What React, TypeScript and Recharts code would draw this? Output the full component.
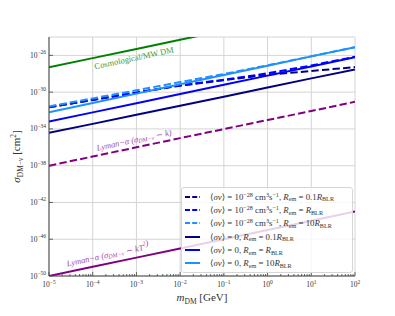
import React from 'react';
import {
  LineChart,
  Line,
  XAxis,
  YAxis,
  CartesianGrid,
  Legend,
  ReferenceDot,
} from 'recharts';

// decades of m_DM [GeV] where the curves were read
const massExp = [-5, -4, -3, -2, -1, 0, 1, 2];

// log10(sigma / cm^2) at each decade
const annNavy = [-31.65, -30.85, -30.05, -29.3, -28.7, -28.1, -27.7, -27.27];
const annBlue = [-31.65, -30.85, -30.05, -29.25, -28.65, -27.95, -27.1, -26.15];
const annLight = [-31.55, -30.68, -29.8, -28.9, -28.03, -27.08, -26.1, -25.1];
const noAnnNavy = [-34.43, -33.45, -32.46, -31.48, -30.5, -29.5, -28.5, -27.53];
const noAnnBlue = [-33.2, -32.2, -31.2, -30.2, -29.2, -28.2, -27.2, -26.2];
const noAnnLight = [-32.18, -31.17, -30.16, -29.15, -28.14, -27.12, -26.11, -25.1];
const cosmoMW = [-27.3, -26.3, -25.3, -24.3, -23.3, -22.3, -21.3, -20.3];
const lymanK = [-38, -37, -36, -35, -34.02, -33.03, -32.05, -31.05];
const lymanKT2 = [-50, -49, -48, -47, -46, -45, -44, -42.98];

// axis ticks (exponents)
const xMajorExp = [-5, -4, -3, -2, -1, 0, 1, 2];
const yMajorExp = [-50, -46, -42, -38, -34, -30, -26];

// annotation anchors (log10 m, log10 sigma)
const cosmoLabelAt = [-3.05, -26.38];
const lymanKLabelAt = [-3.05, -35.3];
const lymanKT2LabelAt = [-3.65, -47.8];

const SERIF = '"Liberation Serif", "DejaVu Serif", serif';
const AXIS = '#444';

const xMajor = xMajorExp.map((e) => 10 ** e);
const xMinor: number[] = [];
xMajorExp.slice(0, -1).forEach((e) => {
  for (let k = 2; k <= 9; k++) xMinor.push(k * 10 ** e);
});
const xAll = [...xMajor, ...xMinor].sort((a, b) => a - b);
const yMajor = yMajorExp.map((e) => 10 ** e);

const rows = massExp.map((e, i) => ({
  m: 10 ** e,
  annNavy: 10 ** annNavy[i],
  annBlue: 10 ** annBlue[i],
  annLight: 10 ** annLight[i],
  noAnnNavy: 10 ** noAnnNavy[i],
  noAnnBlue: 10 ** noAnnBlue[i],
  noAnnLight: 10 ** noAnnLight[i],
  cosmoMW: 10 ** cosmoMW[i],
  lymanK: 10 ** lymanK[i],
  lymanKT2: 10 ** lymanKT2[i],
}));

const bandSeries = [
  { key: 'annNavy', color: '#000080', dashed: true, sv: '−28', r: '0.1' },
  { key: 'annBlue', color: '#0000ff', dashed: true, sv: '−28', r: '' },
  { key: 'annLight', color: '#1e90ff', dashed: true, sv: '−28', r: '10' },
  { key: 'noAnnNavy', color: '#000080', dashed: false, sv: '', r: '0.1' },
  { key: 'noAnnBlue', color: '#0000ff', dashed: false, sv: '', r: '' },
  { key: 'noAnnLight', color: '#1e90ff', dashed: false, sv: '', r: '10' },
];

const DASH = '7.4 3.2';

const expText = (v: number) => {
  const e = Math.round(Math.log10(v));
  return e < 0 ? `−${-e}` : `${e}`;
};
const isMajor = (v: number) => {
  const e = Math.log10(v);
  return Math.abs(e - Math.round(e)) < 1e-6;
};

const XTick = (props: any) => {
  const { x, y, payload } = props;
  const major = isMajor(payload.value);
  return (
    <g>
      <line x1={x} x2={x} y1={y} y2={y - (major ? 4 : 2)} stroke={AXIS} strokeWidth={0.8} />
      {major && (
        <text x={x} y={y + 11} textAnchor="middle" fontSize={7.5} fill="#333" fontFamily={SERIF}>
          10
          <tspan dy={-3.5} fontSize={5.5}>
            {expText(payload.value)}
          </tspan>
        </text>
      )}
    </g>
  );
};

const TopTick = (props: any) => {
  const { x, y } = props;
  return <line x1={x} x2={x} y1={y} y2={y + 4} stroke={AXIS} strokeWidth={0.8} />;
};

const YTick = (props: any) => {
  const { x, y, payload } = props;
  return (
    <g>
      <line x1={x} x2={x + 4} y1={y} y2={y} stroke={AXIS} strokeWidth={0.8} />
      <text x={x - 3} y={y + 2.5} textAnchor="end" fontSize={7.5} fill="#333" fontFamily={SERIF}>
        10
        <tspan dy={-3.5} fontSize={5.5}>
          {expText(payload.value)}
        </tspan>
      </text>
    </g>
  );
};

const RightTick = (props: any) => {
  const { x, y } = props;
  return <line x1={x} x2={x - 4} y1={y} y2={y} stroke={AXIS} strokeWidth={0.8} />;
};

const sup: React.CSSProperties = { fontSize: '0.7em', position: 'relative', top: '-0.45em' };
const sub: React.CSSProperties = { fontSize: '0.7em', position: 'relative', top: '0.3em' };

const LegendBox = () => (
  <div
    style={{
      background: 'rgba(255,255,255,0.82)',
      border: '1px solid #d6d6d6',
      borderRadius: 3,
      padding: '2px 3px',
      fontFamily: SERIF,
      fontSize: 8.8,
      color: '#333',
    }}
  >
    {bandSeries.map((s) => (
      <div key={s.key} style={{ display: 'flex', alignItems: 'center', height: 13.3, whiteSpace: 'nowrap' }}>
        <svg width={15} height={6} style={{ marginRight: 10, flex: 'none' }}>
          <line
            x1={0}
            x2={15}
            y1={3}
            y2={3}
            stroke={s.color}
            strokeWidth={2}
            strokeDasharray={s.dashed ? '5 2.2' : undefined}
          />
        </svg>
        <span>
          ⟨<i>σv</i>⟩ ={' '}
          {s.sv ? (
            <>
              10<span style={sup}>{s.sv}</span> cm<span style={sup}>3</span>s<span style={sup}>−1</span>
            </>
          ) : (
            '0'
          )}
          , <i>R</i>
          <span style={sub}>em</span> = {s.r}
          <i>R</i>
          <span style={sub}>BLR</span>
        </span>
      </div>
    ))}
  </div>
);

const slantText = (content: React.ReactNode, color: string, italic: boolean) => (p: any) =>
  (
    <text
      x={p.cx}
      y={p.cy}
      transform={`rotate(-12 ${p.cx} ${p.cy})`}
      textAnchor="middle"
      dominantBaseline="middle"
      fontSize={8.5}
      fontFamily={SERIF}
      fontStyle={italic ? 'italic' : 'normal'}
      fill={color}
    >
      {content}
    </text>
  );

const lymanLabel = (tail: React.ReactNode) => (
  <>
    Lyman−α (σ
    <tspan dy={2} fontSize={6}>
      DM−ν
    </tspan>
    <tspan dy={-2}> ∼ </tspan>
    {tail})
  </>
);

export default function App() {
  return (
    <div style={{ position: 'absolute', left: 0, top: 0, width: 395, height: 316, background: '#fff' }}>
      <LineChart width={395} height={316} data={rows} margin={{ top: 37, right: 40, bottom: 0, left: 0 }}>
        <CartesianGrid xAxisId="top" stroke="#d4d4d4" strokeWidth={1} />
        <XAxis
          dataKey="m"
          type="number"
          scale="log"
          domain={[1e-5, 1e2]}
          allowDataOverflow
          ticks={xAll}
          interval={0}
          height={40}
          tickSize={0}
          tickMargin={0}
          tickLine={false}
          tick={<XTick />}
          stroke={AXIS}
          label={{
            position: 'insideBottom',
            content: (p: any) => {
              const vb = p.viewBox;
              return (
                <text x={vb.x + vb.width / 2} y={vb.y + 25} textAnchor="middle" fontSize={11} fill="#333" fontFamily={SERIF}>
                  <tspan fontStyle="italic">m</tspan>
                  <tspan dy={2.5} fontSize={7.5}>
                    DM
                  </tspan>
                  <tspan dy={-2.5}> [GeV]</tspan>
                </text>
              );
            },
          }}
        />
        <XAxis
          xAxisId="top"
          orientation="top"
          dataKey="m"
          type="number"
          scale="log"
          domain={[1e-5, 1e2]}
          allowDataOverflow
          ticks={xMajor}
          interval={0}
          height={0}
          tickSize={0}
          tickMargin={0}
          tickLine={false}
          tick={<TopTick />}
          stroke={AXIS}
        />
        <YAxis
          type="number"
          scale="log"
          domain={[1e-50, 1e-24]}
          allowDataOverflow
          ticks={yMajor}
          interval={0}
          width={49}
          tickSize={0}
          tickMargin={0}
          tickLine={false}
          tick={<YTick />}
          stroke={AXIS}
          label={{
            position: 'insideLeft',
            content: (p: any) => {
              const vb = p.viewBox;
              const cx = 20;
              const cy = vb.y + vb.height / 2;
              return (
                <text x={cx} y={cy} transform={`rotate(-90 ${cx} ${cy})`} textAnchor="middle" fontSize={11} fill="#333" fontFamily={SERIF}>
                  <tspan fontStyle="italic">σ</tspan>
                  <tspan dy={2.5} fontSize={7.5}>
                    DM−ν
                  </tspan>
                  <tspan dy={-2.5}> [cm</tspan>
                  <tspan dy={-4} fontSize={7.5}>
                    2
                  </tspan>
                  <tspan dy={4}>]</tspan>
                </text>
              );
            },
          }}
        />
        <YAxis
          yAxisId="right"
          orientation="right"
          type="number"
          scale="log"
          domain={[1e-50, 1e-24]}
          allowDataOverflow
          ticks={yMajor}
          interval={0}
          width={0}
          tickSize={0}
          tickMargin={0}
          tickLine={false}
          tick={<RightTick />}
          stroke={AXIS}
        />

        <Line dataKey="cosmoMW" stroke="#008000" strokeWidth={2} dot={false} legendType="none" isAnimationActive={false} />
        <Line dataKey="lymanK" stroke="#800080" strokeWidth={2} strokeDasharray={DASH} dot={false} legendType="none" isAnimationActive={false} />
        <Line dataKey="lymanKT2" stroke="#800080" strokeWidth={2} dot={false} legendType="none" isAnimationActive={false} />
        {bandSeries.map((s) => (
          <Line
            key={s.key}
            dataKey={s.key}
            stroke={s.color}
            strokeWidth={2}
            strokeDasharray={s.dashed ? DASH : undefined}
            dot={false}
            isAnimationActive={false}
          />
        ))}

        <ReferenceDot
          x={10 ** cosmoLabelAt[0]}
          y={10 ** cosmoLabelAt[1]}
          r={0}
          shape={slantText('Cosmological/MW DM', '#3c9a3c', false)}
        />
        <ReferenceDot
          x={10 ** lymanKLabelAt[0]}
          y={10 ** lymanKLabelAt[1]}
          r={0}
          shape={slantText(lymanLabel(<tspan>k</tspan>), '#a84aa8', true)}
        />
        <ReferenceDot
          x={10 ** lymanKT2LabelAt[0]}
          y={10 ** lymanKT2LabelAt[1]}
          r={0}
          shape={slantText(
            lymanLabel(
              <>
                <tspan>kT</tspan>
                <tspan dy={-3.5} fontSize={6}>
                  2
                </tspan>
                <tspan dy={3.5}></tspan>
              </>
            ),
            '#a84aa8',
            true
          )}
        />

        <Legend
          layout="vertical"
          align="center"
          verticalAlign="middle"
          wrapperStyle={{ left: 181, top: 187, width: 172 }}
          content={() => <LegendBox />}
        />
      </LineChart>
    </div>
  );
}
